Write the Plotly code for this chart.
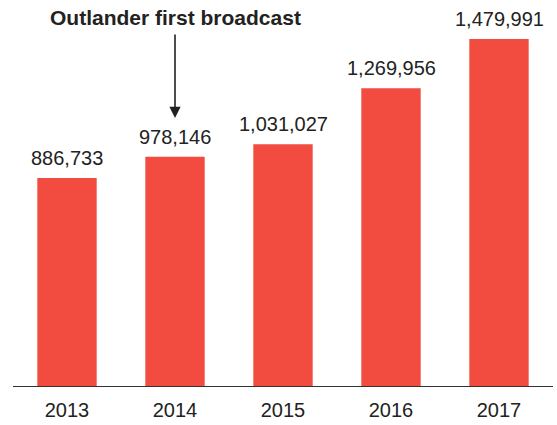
import plotly.graph_objects as go

years = [2013, 2014, 2015, 2016, 2017]
year_labels = ["2013", "2014", "2015", "2016", "2017"]
values = [886733, 978146, 1031027, 1269956, 1479991]
value_labels = ["886,733", "978,146", "1,031,027", "1,269,956", "1,479,991"]
note_year = 2014
note_text = "Outlander first broadcast"

W, H = 557, 425
mt, mb, ml, mr = 20, 39, 13, 4
plot_h = H - mt - mb
bar_color = "#F24C41"
text_color = "#222222"
font_family = "Liberation Sans, Arial, sans-serif"

fig = go.Figure()
fig.add_trace(go.Bar(x=years, y=values, width=0.55,
                     marker=dict(color=bar_color, line=dict(width=0)),
                     hoverinfo="skip"))

for yr, v, lab in zip(years, values, value_labels):
    fig.add_annotation(x=yr, y=v, xref="x", yref="y", text=lab, showarrow=False,
                       yanchor="bottom", yshift=7,
                       font=dict(size=20, color=text_color, family=font_family))

# arrow
head_px = 118
tail_px = 33
fig.add_annotation(x=note_year, xref="x", y=(H - mb - head_px) / plot_h, yref="paper",
                   ax=0, ay=-(head_px - tail_px),
                   text="", showarrow=True, arrowhead=2, arrowsize=1.4, arrowwidth=1.6,
                   arrowcolor=text_color)
fig.add_annotation(x=note_year, xref="x", y=(H - mb - 17) / plot_h, yref="paper",
                   text="<b>" + note_text + "</b>", showarrow=False, yanchor="middle",
                   font=dict(size=21, color=text_color, family=font_family))

fig.update_layout(
    width=W, height=H,
    margin=dict(l=ml, r=mr, t=mt, b=mb, pad=0),
    paper_bgcolor="white", plot_bgcolor="white",
    showlegend=False,
    font=dict(family=font_family, color=text_color),
    xaxis=dict(range=[years[0] - 0.5, years[-1] + 0.5], tickvals=years, ticktext=year_labels,
               showgrid=False, zeroline=False, showline=True, linecolor="#333333", linewidth=1,
               ticks="", tickfont=dict(size=20, color=text_color, family=font_family),
               ticklabelstandoff=6, fixedrange=True),
    yaxis=dict(visible=False, range=[0, 1479991 * plot_h / 347], fixedrange=True),
)

fig.write_html("out.html")
